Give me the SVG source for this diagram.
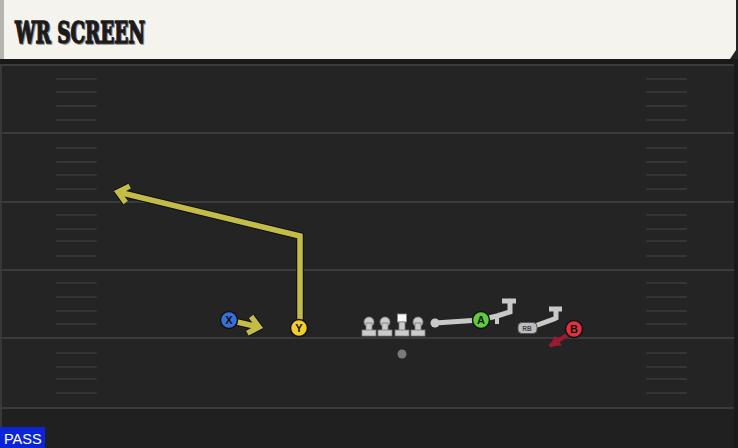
<svg xmlns="http://www.w3.org/2000/svg" width="738" height="448" viewBox="0 0 738 448">
<defs>
<style>
.yard{stroke:#3b3b3b;stroke-width:2}
.hash{stroke:#353535;stroke-width:2;stroke-linecap:round}
.lbl{font-family:"Liberation Sans",Arial,sans-serif;font-weight:bold;font-size:11px;fill:#111;text-anchor:middle}
.olin{fill:#cbcbcb;stroke:#7a7a7a;stroke-width:0.8}
.blk{fill:none;stroke:#c9c9c9;stroke-width:5;stroke-linejoin:miter}
.routeO{fill:none;stroke:#0d0d12;stroke-width:7.5;stroke-linejoin:miter}
.route{fill:none;stroke:#c3bd47;stroke-width:5.5;stroke-linejoin:miter}
.pc{stroke:#111;stroke-width:1.5}
.title{font-family:"DejaVu Serif",serif;font-weight:bold;font-size:29px}
</style>
<marker id="chevO" viewBox="-16 -13 20 26" markerWidth="20" markerHeight="26" refX="0" refY="0" orient="auto" markerUnits="userSpaceOnUse">
<path d="M-10,-8.5 L0,0 L-10,8.5" fill="none" stroke="#0d0d12" stroke-width="7.5"/>
</marker>
<marker id="chev" viewBox="-16 -13 20 26" markerWidth="20" markerHeight="26" refX="0" refY="0" orient="auto" markerUnits="userSpaceOnUse">
<path d="M-10,-8.5 L0,0 L-10,8.5" fill="none" stroke="#c3bd47" stroke-width="5.5"/>
</marker>
<marker id="tri" viewBox="-12 -8 14 16" markerWidth="14" markerHeight="16" refX="0" refY="0" orient="auto" markerUnits="userSpaceOnUse">
<path d="M-10,-6 L1,0 L-10,6 Z" fill="#9d1a2e"/>
</marker>
</defs>

<!-- field -->
<rect x="0" y="0" width="738" height="448" fill="#242424"/>
<rect x="0" y="408" width="738" height="40" fill="#202020"/>
<rect x="0" y="59" width="738" height="5" fill="#191919"/>
<rect x="734" y="59" width="4" height="389" fill="#1a1a1a"/>
<line x1="1" y1="64" x2="1" y2="448" stroke="#383838" stroke-width="2"/>

<g id="yardlines">
<line class="yard" x1="0" y1="65" x2="734" y2="65"/>
<line class="yard" x1="0" y1="133" x2="734" y2="133"/>
<line class="yard" x1="0" y1="202" x2="734" y2="202"/>
<line class="yard" x1="0" y1="270" x2="734" y2="270"/>
<line class="yard" x1="0" y1="338" x2="734" y2="338"/>
<line class="yard" x1="0" y1="408" x2="734" y2="408"/>
</g>
<g id="hashes">
<path class="hash" d="M57,79H96M57,92H96M57,106H96M57,120H96M57,148H96M57,162H96M57,175H96M57,189H96M57,215H96M57,229H96M57,241H96M57,256H96M57,283H96M57,297H96M57,311H96M57,324H96M57,353H96M57,367H96M57,379H96M57,393H96"/>
<path class="hash" d="M647,79H686M647,92H686M647,106H686M647,120H686M647,148H686M647,162H686M647,175H686M647,189H686M647,215H686M647,229H686M647,241H686M647,256H686M647,283H686M647,297H686M647,311H686M647,324H686M647,353H686M647,367H686M647,379H686M647,393H686"/>
</g>

<!-- header -->
<g id="header">
<path d="M0,0 H736 V50 L730,59 H0 Z" fill="#f5f3ed"/>
<rect x="0" y="0" width="4" height="59" fill="#b5b5b0"/>
<text class="title" x="16" y="44" fill="#8f8f8f" stroke="#8f8f8f" stroke-width="1.4" textLength="130" lengthAdjust="spacingAndGlyphs">WR SCREEN</text>
<text class="title" x="15" y="43" fill="#1b1b1b" stroke="#1b1b1b" stroke-width="1.4" textLength="130" lengthAdjust="spacingAndGlyphs">WR SCREEN</text>
</g>

<!-- connectors -->
<g id="connectors">
<polyline class="routeO" points="300,320 300,236 118,192" marker-end="url(#chevO)"/>
<polyline class="route" points="300,320 300,236 118,192" marker-end="url(#chev)"/>
<line class="routeO" x1="237" y1="322" x2="259" y2="327" marker-end="url(#chevO)"/>
<line class="route" x1="237" y1="322" x2="259" y2="327" marker-end="url(#chev)"/>
<polyline class="blk" points="435,323 480,320 497,316 510,312 510,301"/>
<line x1="497" y1="316" x2="497" y2="324" stroke="#c9c9c9" stroke-width="4"/>
<line x1="502" y1="301" x2="516" y2="301" stroke="#c9c9c9" stroke-width="5"/>
<circle cx="435" cy="323" r="4.5" fill="#c9c9c9"/>
<polyline class="blk" points="532,327 554,319 556,318 556,309"/>
<line x1="549" y1="309" x2="562" y2="309" stroke="#c9c9c9" stroke-width="5"/>
<line x1="567" y1="335" x2="550" y2="346" stroke="#9d1a2e" stroke-width="4" marker-end="url(#tri)"/>
</g>

<!-- offensive line -->
<g id="LT" transform="translate(369,0)">
<circle class="olin" cx="0" cy="322" r="5"/><rect class="olin" x="-3" y="323" width="6" height="8"/><rect class="olin" x="-7" y="330" width="14" height="6"/>
</g>
<g id="LG" transform="translate(385,0)">
<circle class="olin" cx="0" cy="322" r="5"/><rect class="olin" x="-3" y="323" width="6" height="8"/><rect class="olin" x="-7" y="330" width="14" height="6"/>
</g>
<g id="C" transform="translate(402,0)">
<rect x="-4.5" y="314" width="9" height="8" fill="#f8f8f8" stroke="#888" stroke-width="0.8"/><rect class="olin" x="-3" y="322" width="6" height="9"/><rect class="olin" x="-7" y="330" width="14" height="6"/>
</g>
<g id="RG" transform="translate(418,0)">
<circle class="olin" cx="0" cy="322" r="5"/><rect class="olin" x="-3" y="323" width="6" height="8"/><rect class="olin" x="-7" y="330" width="14" height="6"/>
</g>
<g id="QB"><circle cx="402" cy="354" r="4.5" fill="#7a7a7a"/></g>

<g id="RB">
<rect x="518" y="322.5" width="19" height="11" rx="4" fill="#bdbdbd" stroke="#555" stroke-width="1"/>
<text x="527" y="331" font-family="'Liberation Sans',Arial,sans-serif" font-weight="bold" font-size="6.5" fill="#444" text-anchor="middle">RB</text>
</g>

<g id="X"><circle class="pc" cx="229" cy="320" r="8.5" fill="#3b6fd8"/><text class="lbl" x="229" y="324">X</text></g>
<g id="Y"><circle class="pc" cx="299" cy="328" r="8.5" fill="#f2cd2e"/><text class="lbl" x="299" y="332">Y</text></g>
<g id="A"><circle class="pc" cx="481" cy="320" r="8.5" fill="#5fcc39"/><text class="lbl" x="481" y="324">A</text></g>
<g id="B"><circle class="pc" cx="574" cy="329" r="8.5" fill="#e3303f"/><text class="lbl" x="574" y="333">B</text></g>

<g id="pass">
<rect x="0" y="427" width="45" height="21" fill="#0b24d8"/>
<text x="4" y="444" font-family="'Liberation Sans',Arial,sans-serif" font-size="14.5" fill="#ffffff">PASS</text>
</g>
</svg>
